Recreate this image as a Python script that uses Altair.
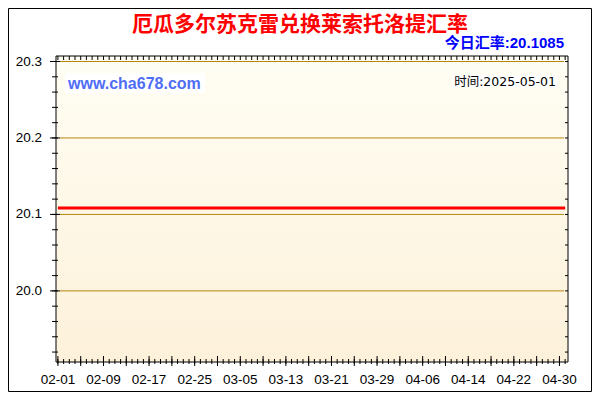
import altair as alt
import pandas as pd
from datetime import datetime, timedelta

# ---------------- data ----------------
title_text = "厄瓜多尔苏克雷兑换莱索托洛提汇率"
rate_text = "今日汇率:20.1085"
site_text = "www.cha678.com"
time_text = "时间:2025-05-01"

line_dates = ["2025-02-01T00:00:00Z", "2025-05-01T00:00:00Z"]
line_rates = [20.1085, 20.1085]

x_label_days = ["02-01", "02-09", "02-17", "02-25", "03-05", "03-13",
                "03-21", "03-29", "04-06", "04-14", "04-22", "04-30"]
y_labels = [20.0, 20.1, 20.2, 20.3]
y_label_text = ["20.0", "20.1", "20.2", "20.3"]

# tick positions (axis decoration)
start = datetime(2025, 2, 1)
day_ticks = [(start + timedelta(days=i)).strftime("%Y-%m-%dT00:00:00Z") for i in range(90)]
major_x_ticks = day_ticks[::4]
y_minor = [round(19.92 + 0.02 * i, 2) for i in range(20)]

W, H = 512, 306
FONT = "Liberation Sans"

x_scale = alt.Scale(type="utc", nice=False,
                    domain=[alt.DateTime(year=2025, month=1, date=31, hours=16, utc=True),
                            alt.DateTime(year=2025, month=5, date=1, hours=12, utc=True)])
y_scale = alt.Scale(domain=[19.907, 20.3072], nice=False, zero=False)

# ---------------- layers ----------------
one = pd.DataFrame({"k": [1]})

bg = alt.Chart(one).mark_rect(
    fill=alt.Gradient(gradient="linear",
                      stops=[alt.GradientStop(color="#FFFEF4", offset=0),
                             alt.GradientStop(color="#FDF1DA", offset=1)],
                      x1=0, x2=0, y1=0, y2=1)
).encode(x=alt.value(0), x2=alt.value(W), y=alt.value(0), y2=alt.value(H))

grid = alt.Chart(pd.DataFrame({"v": y_labels})).mark_rule(color="#B8860B", strokeWidth=1).encode(
    y=alt.Y("v:Q", scale=y_scale, axis=None),
    x=alt.value(4), x2=alt.value(W - 4))

line_df = pd.DataFrame({"date": line_dates, "rate": line_rates})
line = alt.Chart(line_df).mark_line(color="#FF0000", strokeWidth=3).encode(
    x=alt.X("date:T", scale=x_scale, axis=None),
    y=alt.Y("rate:Q", scale=y_scale, axis=None))

day_df = pd.DataFrame({"date": day_ticks})
maj_df = pd.DataFrame({"date": major_x_ticks})
ymin_df = pd.DataFrame({"v": y_minor})
ymaj_df = pd.DataFrame({"v": y_labels, "lab": y_label_text})
xlab_df = pd.DataFrame({"date": ["2025-" + s + "T00:00:00Z" for s in x_label_days],
                        "lab": x_label_days})

bot_minor = alt.Chart(day_df).mark_rule(color="#000", strokeWidth=1).encode(
    x=alt.X("date:T", scale=x_scale, axis=None), y=alt.value(H - 3), y2=alt.value(H + 2))
bot_major = alt.Chart(maj_df).mark_rule(color="#000", strokeWidth=1).encode(
    x=alt.X("date:T", scale=x_scale, axis=None), y=alt.value(H - 6), y2=alt.value(H + 4))
top_minor = alt.Chart(day_df).mark_rule(color="#000", strokeWidth=1).encode(
    x=alt.X("date:T", scale=x_scale, axis=None), y=alt.value(0), y2=alt.value(4))
left_minor = alt.Chart(ymin_df).mark_rule(color="#000", strokeWidth=1).encode(
    y=alt.Y("v:Q", scale=y_scale, axis=None), x=alt.value(-4), x2=alt.value(2))
left_major = alt.Chart(ymaj_df).mark_rule(color="#000", strokeWidth=1).encode(
    y=alt.Y("v:Q", scale=y_scale, axis=None), x=alt.value(-6), x2=alt.value(4))
right_minor = alt.Chart(ymin_df).mark_rule(color="#000", strokeWidth=1).encode(
    y=alt.Y("v:Q", scale=y_scale, axis=None), x=alt.value(W - 3), x2=alt.value(W))

x_labels = alt.Chart(xlab_df).mark_text(
    font=FONT, fontSize=13.5, color="#000000", align="center", baseline="middle").encode(
    x=alt.X("date:T", scale=x_scale, axis=None), y=alt.value(H + 18), text="lab:N")
y_lab = alt.Chart(ymaj_df).mark_text(
    font=FONT, fontSize=13.5, color="#000000", align="right", baseline="middle").encode(
    y=alt.Y("v:Q", scale=y_scale, axis=None), x=alt.value(-14), text="lab:N")

frame = alt.Chart(one).mark_rect(filled=False, stroke="#000", strokeWidth=1).encode(
    x=alt.value(0), x2=alt.value(W), y=alt.value(0), y2=alt.value(H))
outer = alt.Chart(one).mark_rect(filled=False, stroke="#000", strokeWidth=1).encode(
    x=alt.value(-47.5), x2=alt.value(535.5), y=alt.value(-47.5), y2=alt.value(335.5))

site_box = alt.Chart(one).mark_rect(fill="#FFFFFF").encode(
    x=alt.value(9), x2=alt.value(149), y=alt.value(17), y2=alt.value(37))
time_box = alt.Chart(one).mark_rect(fill="#FFFFFF").encode(
    x=alt.value(396), x2=alt.value(501), y=alt.value(19), y2=alt.value(32))

title = alt.Chart(pd.DataFrame({"t": [title_text]})).mark_text(
    font="Noto Sans CJK SC", fontSize=21, fontWeight="bold", color="#FF0000",
    align="center", baseline="middle").encode(x=alt.value(244), y=alt.value(-31), text="t:N")
rate = alt.Chart(pd.DataFrame({"t": [rate_text]})).mark_text(
    font="Liberation Sans, Noto Sans CJK SC", fontSize=15, fontWeight="bold", color="#0000FF",
    align="right", baseline="middle").encode(x=alt.value(508), y=alt.value(-13), text="t:N")
site = alt.Chart(pd.DataFrame({"t": [site_text]})).mark_text(
    font=FONT, fontSize=16, fontWeight="bold", color="#4F6DF5",
    align="left", baseline="middle").encode(x=alt.value(12), y=alt.value(28), text="t:N")
tm = alt.Chart(pd.DataFrame({"t": [time_text]})).mark_text(
    font="DejaVu Sans, Noto Sans CJK SC", fontSize=12.5, color="#000000",
    align="right", baseline="middle").encode(x=alt.value(500), y=alt.value(26), text="t:N")

chart = alt.layer(
    bg, site_box, time_box, grid, line, bot_minor, bot_major, top_minor,
    left_minor, left_major, right_minor, frame, outer, x_labels, y_lab,
    title, rate, site, tm
).properties(
    width=W, height=H,
    autosize=alt.AutoSizeParams(type="none"),
    padding={"left": 48, "top": 48, "right": 24, "bottom": 30},
    background="#FFFFFF"
).configure_view(stroke=None)

chart.save("out.html", embed_options={"renderer": "svg", "actions": False})
